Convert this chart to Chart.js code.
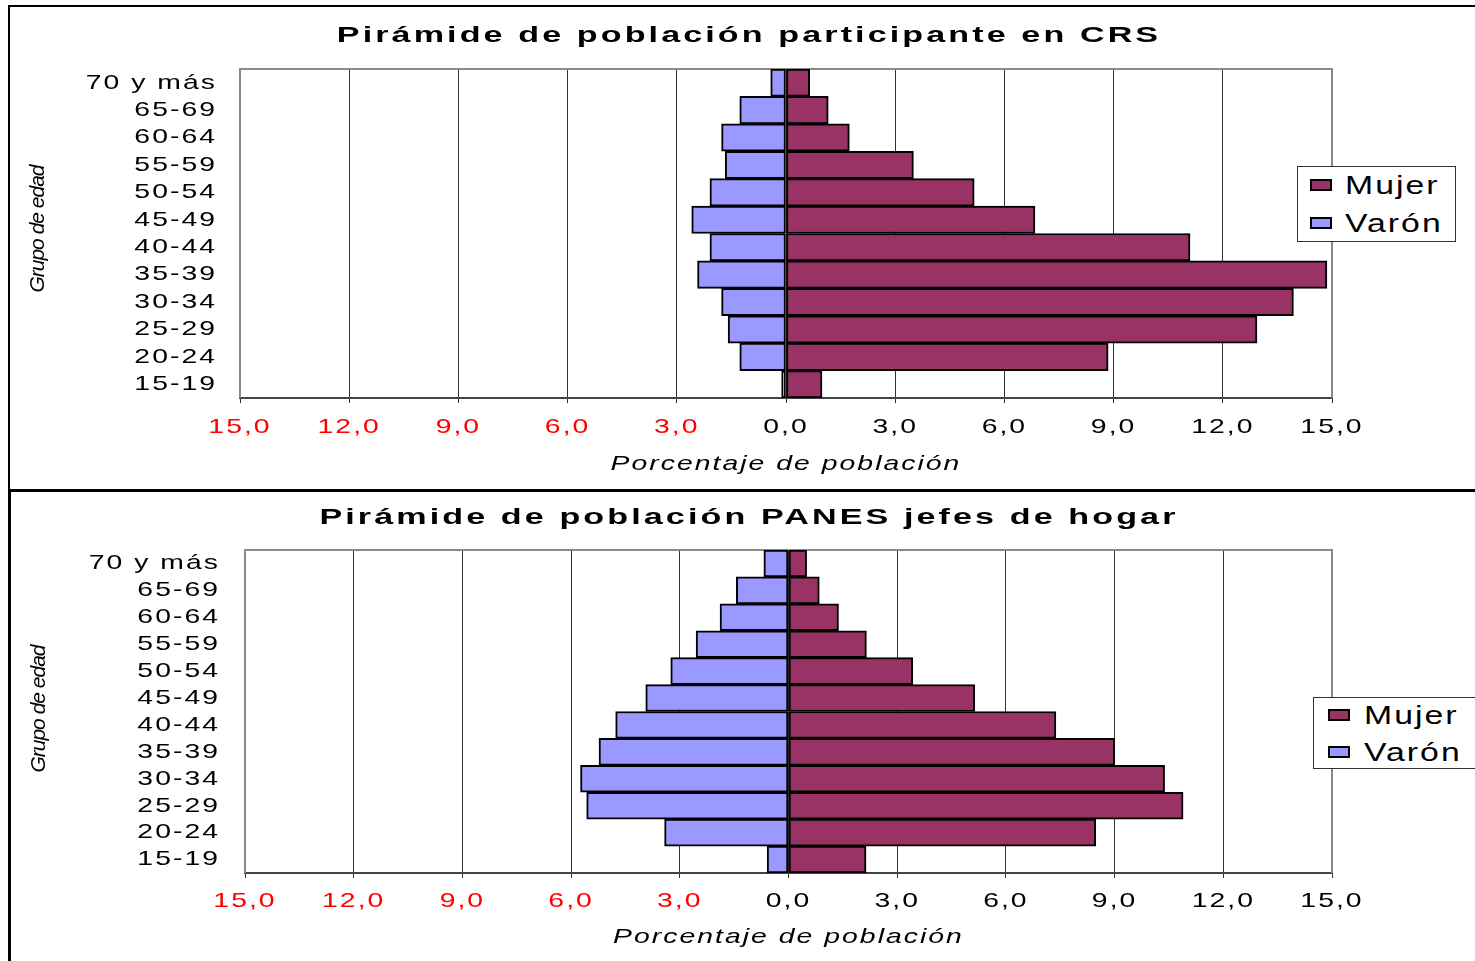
<!DOCTYPE html>
<html lang="es">
<head>
<meta charset="utf-8">
<title>Pirámides de población</title>
<script src="https://cdn.jsdelivr.net/npm/chart.js@4.4.1/dist/chart.umd.min.js"></script>
<style>
  html, body { margin: 0; padding: 0; background: #fff; }
  body {
    width: 1475px; height: 961px; position: relative; overflow: hidden;
    font-family: 'Liberation Sans', Arial, sans-serif; color: #000;
  }
  .frame { position: absolute; left: 8px; width: 1480px; border-style: solid; border-color: #000; border-width: 0; }
  .frame.top { top: 5px; height: 484px; border-top-width: 2px; border-left-width: 2px; }
  .frame.bottom { top: 489px; height: 480px; border-top-width: 3px; border-left-width: 3px; }
  .wrap { position: absolute; left: 0; width: 1475px; }
  .title {
    position: absolute; left: 249px; width: 1000px; text-align: center;
    font-weight: bold; font-size: 22px; letter-spacing: 2px; line-height: 26px;
    transform: scaleX(1.55); transform-origin: 500px 50%; white-space: nowrap;
  }
  .ytitle {
    position: absolute; width: 200px; height: 24px; line-height: 24px; text-align: center;
    font-style: italic; font-size: 21px; letter-spacing: -1px; transform: rotate(-90deg);
    white-space: nowrap;
  }
  .legend { position: absolute; background: #fff; border: 1px solid #333; }
  .legend .sw { position: absolute; width: 18px; height: 8px; border: 2px solid #000; }
  .legend .lb {
    position: absolute; font-size: 25px; letter-spacing: 1.5px; line-height: 28px; white-space: nowrap;
    transform: scaleX(1.35); transform-origin: 0 50%;
  }
</style>
</head>
<body>
<div class="frame top"></div>
<div class="frame bottom"></div>

<div class="wrap" style="top:0;height:490px"><canvas id="chart-crs"></canvas></div>
<div class="wrap" style="top:490px;height:471px"><canvas id="chart-panes"></canvas></div>

<div class="title" style="top:22px">Pirámide de población participante en CRS</div>
<div class="title" style="top:504px">Pirámide de población PANES jefes de hogar</div>

<div class="ytitle" style="left:-63px;top:217px">Grupo de edad</div>
<div class="ytitle" style="left:-62px;top:697px">Grupo de edad</div>

<div class="legend" style="left:1297px;top:166px;width:157px;height:74px">
  <div class="sw" style="left:12px;top:12px;background:#993366"></div>
  <div class="lb" style="left:47px;top:4px">Mujer</div>
  <div class="sw" style="left:12px;top:50px;background:#9999FF"></div>
  <div class="lb" style="left:47px;top:42px">Varón</div>
</div>
<div class="legend" style="left:1313px;top:697px;width:170px;height:70px">
  <div class="sw" style="left:14px;top:11px;background:#993366"></div>
  <div class="lb" style="left:50px;top:3px">Mujer</div>
  <div class="sw" style="left:14px;top:48px;background:#9999FF"></div>
  <div class="lb" style="left:50px;top:40px">Varón</div>
</div>

<script>
/* ── Data (percent of population) ── */
const ageGroups = ['70 y más', '65-69', '60-64', '55-59', '50-54', '45-49',
                   '40-44', '35-39', '30-34', '25-29', '20-24', '15-19'];
const xTickValues = [-15, -12, -9, -6, -3, 0, 3, 6, 9, 12, 15];

const crsMujer   = [0.65, 1.16, 1.74, 3.5, 5.17, 6.84, 11.1, 14.86, 13.94, 12.94, 8.85, 0.99];
const crsVaron   = [0.42, 1.27, 1.77, 1.67, 2.09, 2.59, 2.09, 2.43, 1.77, 1.59, 1.27, 0.12];

const panesMujer = [0.5, 0.85, 1.38, 2.15, 3.43, 5.14, 7.38, 9.0, 10.38, 10.89, 8.48, 2.14];
const panesVaron = [0.68, 1.44, 1.89, 2.55, 3.25, 3.94, 4.77, 5.23, 5.74, 5.57, 3.42, 0.59];

const MUJER = '#993366';
const VARON = '#9999FF';
const FONT  = "'Liberation Sans', Arial, sans-serif";

/* ── wide, stretched lettering like the original export ── */
const stretch = {
  id: 'stretch',
  beforeDraw(chart) {
    const ctx = chart.ctx;
    ctx.letterSpacing = '1.5px';
    if (ctx._stretched) return;
    const fill = ctx.fillText.bind(ctx);
    ctx.fillText = (text, x, y, maxWidth) => {
      ctx.save();
      ctx.translate(x, y);
      ctx.scale(1.35, 1);
      if (maxWidth === undefined) fill(text, 0, 0);
      else fill(text, 0, 0, maxWidth);
      ctx.restore();
    };
    ctx._stretched = true;
  }
};

/* ── grey frame round the plot area ── */
const plotFrame = {
  id: 'plotFrame',
  beforeDatasetsDraw(chart) {
    const { ctx, chartArea: a } = chart;
    ctx.save();
    ctx.strokeStyle = '#8a8a8a';
    ctx.lineWidth = 2;
    ctx.beginPath();
    ctx.moveTo(a.left, a.bottom);
    ctx.lineTo(a.left, a.top);
    ctx.lineTo(a.right, a.top);
    ctx.lineTo(a.right, a.bottom);
    ctx.stroke();
    ctx.restore();
  }
};

function pyramid(id, mujer, varon, g) {
  const bar = {
    borderColor: '#000',
    borderWidth: 2,
    borderSkipped: false,
    barPercentage: 1,
    categoryPercentage: 1,
  };
  return new Chart(document.getElementById(id), {
    type: 'bar',
    data: {
      labels: ageGroups,
      datasets: [
        { ...bar, label: 'Mujer', data: mujer, backgroundColor: MUJER },
        { ...bar, label: 'Varón', data: varon.map(v => -v), backgroundColor: VARON },
      ]
    },
    options: {
      indexAxis: 'y',
      responsive: true,
      maintainAspectRatio: false,
      animation: false,
      layout: { padding: { top: g.top, right: g.right, left: 0, bottom: 0 } },
      plugins: {
        legend: { display: false },
        tooltip: { enabled: false },
      },
      scales: {
        x: {
          stacked: true,
          min: -15,
          max: 15,
          afterBuildTicks: s => { s.ticks = xTickValues.map(v => ({ value: v })); },
          afterFit: s => { s.height = g.xHeight; },
          grid: { color: '#333', lineWidth: 1, tickLength: 5, tickColor: '#333' },
          border: { color: '#444', width: 2 },
          ticks: {
            autoSkip: false,
            maxRotation: 0,
            padding: g.xPad,
            font: { family: FONT, size: 21 },
            color: c => (c.tick.value < 0 ? '#FF0000' : '#000'),
            callback: v => Math.abs(v).toFixed(1).replace('.', ','),
          },
          title: {
            display: true,
            text: 'Porcentaje de población',
            color: '#000',
            font: { family: FONT, size: 21, style: 'italic' },
            padding: { top: 0, bottom: g.titlePad },
          }
        },
        y: {
          stacked: true,
          afterFit: s => { s.width = g.yWidth; },
          grid: { display: false, drawTicks: false },
          border: { display: false },
          ticks: {
            autoSkip: false,
            padding: g.yPad,
            color: '#000',
            font: { family: FONT, size: 21 },
          }
        }
      }
    },
    plugins: [stretch, plotFrame]
  });
}

pyramid('chart-crs', crsMujer, crsVaron,
  { top: 69, right: 143, yWidth: 240, xHeight: 92, yPad: 23, xPad: 12, titlePad: 13 });
pyramid('chart-panes', panesMujer, panesVaron,
  { top: 60, right: 143, yWidth: 245, xHeight: 88, yPad: 25, xPad: 11, titlePad: 11 });
</script>
</body>
</html>
